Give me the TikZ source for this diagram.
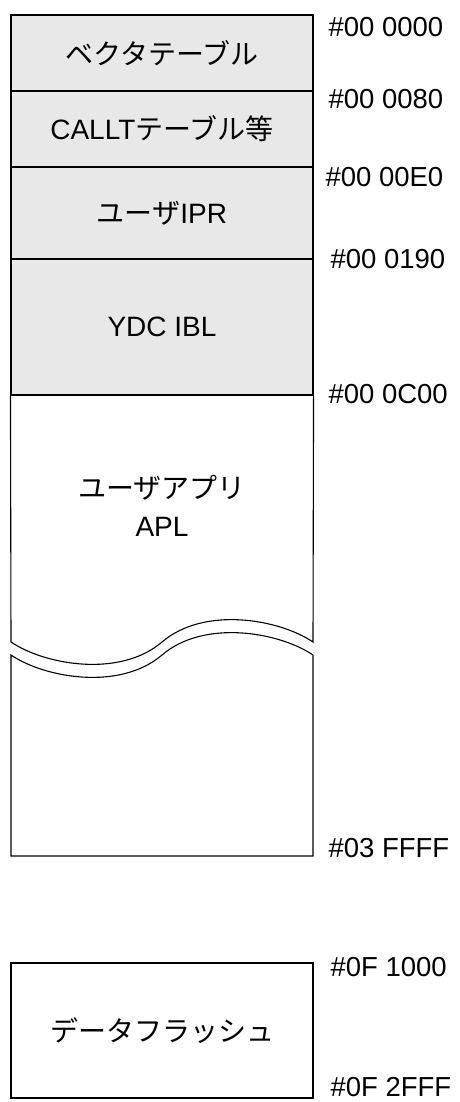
\documentclass[tikz,border=0pt]{standalone}
\usepackage{fontspec}
\setmainfont{Liberation Sans}
\newfontfamily\jp{Noto Sans CJK JP}
\begin{document}
\begin{tikzpicture}[x=1pt,y=-1pt,
  line width=1.1pt,
  cell/.style={draw=black, fill=gray!18, minimum width=302pt, inner sep=0pt, align=center, font=\fontsize{28}{34}\selectfont},
  plain/.style={draw=black, fill=white, minimum width=302pt, inner sep=0pt, align=center, font=\fontsize{28}{34}\selectfont},
  addr/.style={anchor=west, inner sep=0pt, font=\fontsize{27.5}{32}\selectfont},
  boxtext/.style={inner sep=0pt, align=center, font=\fontsize{28}{38}\selectfont}]
\useasboundingbox (0,0) rectangle (460,1102);
% gray cells
\node[cell, minimum height=76pt] (vec) at (162,53) {\jp ベクタテーブル};
\node[cell, minimum height=76pt] (callt) at (162,129) {CALLT{\jp テーブル等}};
\node[cell, minimum height=92pt] (ipr) at (162,213) {{\jp ユーザ}IPR};
\node[cell, minimum height=136pt] (ibl) at (162,327) {YDC IBL};
% application region (upper part)
\draw (ibl.south west) -- (11,642)
  .. controls (45,665) and (120,678) .. (162,642)
  .. controls (204,606) and (279,619) .. (313,642) -- (ibl.south east);
% lower part
\draw (313,655)
  .. controls (279,632) and (204,619) .. (162,655)
  .. controls (120,691) and (45,678) .. (11,655) -- (11,856) -- (313,856) -- cycle;
\node[boxtext] (apl) at (162,506) {{\jp ユーザアプリ}\\APL};
% data flash
\node[plain, minimum height=135pt] (flash) at (162,1030.5) {\jp データフラッシュ};
% addresses
\node[addr] (a0) at (328,27) {\#00 0000};
\node[addr] (a1) at (328,99) {\#00 0080};
\node[addr] (a2) at (325,177) {\#00 00E0};
\node[addr] (a3) at (330,259) {\#00 0190};
\node[addr] (a4) at (328,394) {\#00 0C00};
\node[addr] (a5) at (328,848) {\#03 FFFF};
\node[addr] (a6) at (330,967) {\#0F 1000};
\node[addr] (a7) at (330,1087) {\#0F 2FFF};
\end{tikzpicture}
\end{document}
